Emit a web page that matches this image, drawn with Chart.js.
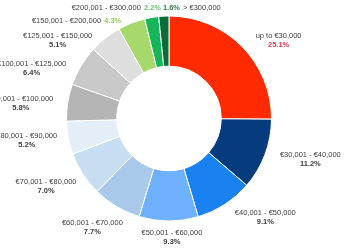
<!DOCTYPE html>
<html>
<head>
<meta charset="utf-8">
<script src="https://cdn.jsdelivr.net/npm/chart.js@4.4.1/dist/chart.umd.min.js"></script>
<style>
html, body { margin: 0; padding: 0; background: #fff; }
canvas { display: block; }
</style>
</head>
<body>
<canvas id="chart" width="350" height="250"></canvas>
<script>
// --- DONNEES ---
const bands = ['up to €30,000', '€30,001 - €40,000', '€40,001 - €50,000', '€50,001 - €60,000',
  '€60,001 - €70,000', '€70,001 - €80,000', '€80,001 - €90,000', '€90,001 - €100,000',
  '€100,001 - €125,000', '€125,001 - €150,000', '€150,001 - €200,000', '€200,001 - €300,000', '> €300,000'];
const shares = [25.1, 11.2, 9.1, 9.3, 7.7, 7.0, 5.2, 5.8, 6.4, 5.1, 4.3, 2.2, 1.6];

const sliceColours = ['#ff2a00', '#063b7e', '#1982f0', '#6eb0fc', '#a9c9ea', '#c7ddf2', '#e4eef9',
  '#b5b5b5', '#c9c9c9', '#dedede', '#a6d86c', '#15b65a', '#0c6c3b'];
const pctColours = ['#e0354f', '#404040', '#404040', '#404040', '#404040', '#404040', '#404040',
  '#404040', '#404040', '#404040', '#8fcc55', '#6cc070', '#2f7d45'];

// placement des etiquettes : angle (deg, sens horaire depuis le haut), distance / rayon ext., disposition
const labelSpots = [
  [54.7, 1.31, 'below'], [106.1, 1.435, 'below'], [135.9, 1.35, 'below'], [178.6, 1.165, 'below'],
  [215.1, 1.30, 'below'], [241.2, 1.369, 'below'], [261.4, 1.404, 'below'], [275.7, 1.454, 'below'],
  [289.9, 1.425, 'below'], [304.9, 1.325, 'below'], [316.5, 1.31, 'after'], [334.5, 1.194, 'after'],
  [11.7, 1.10, 'before']
];

const FONT = '"Liberation Sans", Arial, sans-serif';

const labelPlugin = {
  id: 'bandLabels',
  afterDatasetsDraw(chart) {
    const arc0 = chart.getDatasetMeta(0).data[0];
    const cx = arc0.x, cy = arc0.y, R = arc0.outerRadius;
    const ctx = chart.ctx;
    ctx.save();
    ctx.textBaseline = 'middle';
    bands.forEach((name, i) => {
      const [deg, dist, mode] = labelSpots[i];
      const a = deg * Math.PI / 180;
      const x = cx + Math.sin(a) * R * dist;
      const y = cy - Math.cos(a) * R * dist;
      const pct = shares[i].toFixed(1) + '%';
      const nameFont = '7.5px ' + FONT;
      const pctFont = 'bold 7.5px ' + FONT;
      if (mode === 'below') {
        ctx.textAlign = 'center';
        ctx.font = nameFont; ctx.fillStyle = '#404040';
        ctx.fillText(name, x, y - 4.5);
        ctx.font = pctFont; ctx.fillStyle = pctColours[i];
        ctx.fillText(pct, x, y + 4.5);
      } else {
        ctx.textAlign = 'left';
        ctx.font = nameFont; const wn = ctx.measureText(name).width;
        ctx.font = pctFont; const wp = ctx.measureText(pct).width;
        const gap = 3;
        let left = x - (wn + gap + wp) / 2;
        const parts = mode === 'after'
          ? [[name, nameFont, '#404040', wn], [pct, pctFont, pctColours[i], wp]]
          : [[pct, pctFont, pctColours[i], wp], [name, nameFont, '#404040', wn]];
        parts.forEach(([t, f, c, w]) => {
          ctx.font = f; ctx.fillStyle = c;
          ctx.fillText(t, left, y);
          left += w + gap;
        });
      }
    });
    ctx.restore();
  }
};

new Chart(document.getElementById('chart'), {
  type: 'doughnut',
  data: {
    labels: bands,
    datasets: [{
      data: shares,
      backgroundColor: sliceColours,
      borderColor: '#ffffff',
      borderWidth: 1
    }]
  },
  options: {
    responsive: false,
    animation: false,
    cutout: '51%',
    layout: { padding: { left: 66, right: 78, top: 15, bottom: 28 } },
    plugins: { legend: { display: false }, tooltip: { enabled: false } }
  },
  plugins: [labelPlugin]
});
</script>
</body>
</html>
